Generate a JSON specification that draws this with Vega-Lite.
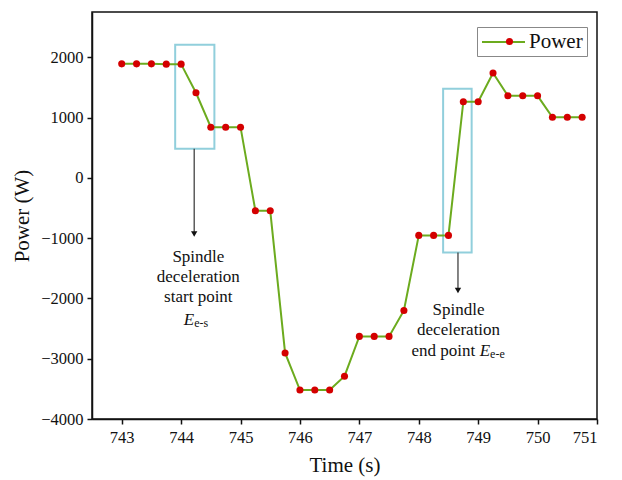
{
  "$schema": "https://vega.github.io/schema/vega-lite/v6.json",
  "width": 505,
  "height": 407,
  "autosize": "none",
  "padding": {"left": 92, "top": 12, "right": 25, "bottom": 61},
  "background": "white",
  "config": {
    "view": {"stroke": "#111", "strokeWidth": 1.5},
    "font": "Liberation Serif",
    "axis": {
      "labelFont": "Liberation Serif", "titleFont": "Liberation Serif",
      "labelFontSize": 16.5, "titleFontSize": 21, "titleFontWeight": "normal",
      "labelColor": "#111", "titleColor": "#111",
      "domainColor": "#111", "domainWidth": 1.5, "tickColor": "#111", "tickWidth": 1.5, "tickSize": 5,
      "grid": false
    }
  },
  "datasets": {
    "main": [
      {"t": 743.0, "p": 1890, "s": "Power"}, {"t": 743.25, "p": 1890, "s": "Power"},
      {"t": 743.5, "p": 1890, "s": "Power"}, {"t": 743.75, "p": 1885, "s": "Power"},
      {"t": 744.0, "p": 1885, "s": "Power"}, {"t": 744.25, "p": 1410, "s": "Power"},
      {"t": 744.5, "p": 840, "s": "Power"}, {"t": 744.75, "p": 840, "s": "Power"},
      {"t": 745.0, "p": 840, "s": "Power"}, {"t": 745.25, "p": -547, "s": "Power"},
      {"t": 745.5, "p": -547, "s": "Power"}, {"t": 745.75, "p": -2905, "s": "Power"},
      {"t": 746.0, "p": -3520, "s": "Power"}, {"t": 746.25, "p": -3520, "s": "Power"},
      {"t": 746.5, "p": -3520, "s": "Power"}, {"t": 746.75, "p": -3290, "s": "Power"},
      {"t": 747.0, "p": -2630, "s": "Power"}, {"t": 747.25, "p": -2630, "s": "Power"},
      {"t": 747.5, "p": -2630, "s": "Power"}, {"t": 747.75, "p": -2200, "s": "Power"},
      {"t": 748.0, "p": -955, "s": "Power"}, {"t": 748.25, "p": -955, "s": "Power"},
      {"t": 748.5, "p": -955, "s": "Power"}, {"t": 748.75, "p": 1262, "s": "Power"},
      {"t": 749.0, "p": 1262, "s": "Power"}, {"t": 749.25, "p": 1738, "s": "Power"},
      {"t": 749.5, "p": 1360, "s": "Power"}, {"t": 749.75, "p": 1360, "s": "Power"},
      {"t": 750.0, "p": 1360, "s": "Power"}, {"t": 750.25, "p": 1005, "s": "Power"},
      {"t": 750.5, "p": 1005, "s": "Power"}, {"t": 750.75, "p": 1005, "s": "Power"}
    ],
    "boxes": [
      {"xa": 743.9, "xb": 744.56, "ya": 480, "yb": 2205},
      {"xa": 748.41, "xb": 748.89, "ya": -1237, "yb": 1476}
    ],
    "arrows": [
      {"ax": 744.22, "ay": 480, "by": -930},
      {"ax": 748.66, "ay": -1237, "by": -1870}
    ],
    "labels": [
      {"lx": 744.29, "ly": -1310, "txt": "Spindle"},
      {"lx": 744.29, "ly": -1642, "txt": "deceleration"},
      {"lx": 744.29, "ly": -1983, "txt": "start point"},
      {"lx": 748.67, "ly": -2194, "txt": "Spindle"},
      {"lx": 748.67, "ly": -2526, "txt": "deceleration"}
    ],
    "ital": [{"lx": 744.22, "ly": -2360, "txt": "E"}, {"lx": 749.2, "ly": -2874, "txt": "E"}],
    "subs": [{"lx": 744.22, "ly": -2360, "txt": "e-s"}, {"lx": 749.2, "ly": -2874, "txt": "e-e"}],
    "endp": [{"lx": 748.95, "ly": -2874, "txt": "end point"}]
  },
  "layer": [
    {
      "data": {"name": "boxes"},
      "mark": {"type": "rect", "filled": false, "stroke": "#91cfdc", "strokeWidth": 2},
      "encoding": {
        "x": {"field": "xa", "type": "quantitative"},
        "x2": {"field": "xb"},
        "y": {"field": "ya", "type": "quantitative"},
        "y2": {"field": "yb"}
      }
    },
    {
      "data": {"name": "arrows"},
      "mark": {"type": "rule", "color": "#333", "strokeWidth": 1.2},
      "encoding": {
        "x": {"field": "ax", "type": "quantitative"},
        "y": {"field": "ay", "type": "quantitative"},
        "y2": {"field": "by"}
      }
    },
    {
      "data": {"name": "arrows"},
      "mark": {"type": "point", "shape": "triangle-down", "filled": true, "color": "#111", "size": 40, "opacity": 1},
      "encoding": {
        "x": {"field": "ax", "type": "quantitative"},
        "y": {"field": "by", "type": "quantitative"}
      }
    },
    {
      "data": {"name": "main"},
      "mark": {"type": "line", "strokeWidth": 2},
      "encoding": {
        "x": {"field": "t", "type": "quantitative", "title": "Time (s)",
              "scale": {"domain": [742.5, 751], "nice": false, "zero": false},
              "axis": {"values": [743, 744, 745, 746, 747, 748, 749, 750, 751], "format": "d", "labelPadding": 5, "titlePadding": 9}},
        "y": {"field": "p", "type": "quantitative", "title": "Power (W)",
              "scale": {"domain": [-4000, 2750], "nice": false},
              "axis": {"values": [-4000, -3000, -2000, -1000, 0, 1000, 2000], "format": "d", "labelPadding": 4, "titlePadding": 8}},
        "color": {"field": "s", "type": "nominal", "scale": {"range": ["#6cab1e"]},
          "legend": {
            "title": null, "orient": "none", "legendX": 385, "legendY": 15,
            "strokeColor": "#888", "padding": 4, "cornerRadius": 0,
            "labelFont": "Liberation Serif", "labelFontSize": 21, "labelColor": "#111", "labelOffset": 26,
            "symbolType": "M-1,0L3.3,0",
            "symbolSize": 400, "symbolStrokeWidth": 2, "symbolStrokeColor": "#6cab1e", "symbolFillColor": "transparent"
          }}
      }
    },
    {
      "data": {"name": "main"},
      "mark": {"type": "point", "filled": true, "color": "#d40000", "size": 50, "opacity": 1},
      "encoding": {
        "x": {"field": "t", "type": "quantitative"},
        "y": {"field": "p", "type": "quantitative"},
        "shape": {"field": "s", "type": "nominal", "scale": {"range": ["circle"]},
          "legend": {
            "title": null, "orient": "none", "legendX": 407, "legendY": 19, "padding": 0,
            "labelFontSize": 21, "labelExpr": "''", "labelFont": "Liberation Serif",
            "symbolSize": 50, "symbolFillColor": "#d40000", "symbolStrokeWidth": 0, "symbolStrokeColor": "transparent", "symbolOpacity": 1
          }}
      }
    },
    {
      "data": {"name": "labels"},
      "mark": {"type": "text", "font": "Liberation Serif", "fontSize": 17, "color": "#111", "align": "center", "baseline": "middle"},
      "encoding": {
        "x": {"field": "lx", "type": "quantitative"},
        "y": {"field": "ly", "type": "quantitative"},
        "text": {"field": "txt"}
      }
    },
    {
      "data": {"name": "ital"},
      "mark": {"type": "text", "font": "Liberation Serif", "fontStyle": "italic", "fontSize": 17, "color": "#111", "align": "right", "baseline": "middle"},
      "encoding": {
        "x": {"field": "lx", "type": "quantitative"},
        "y": {"field": "ly", "type": "quantitative"},
        "text": {"field": "txt"}
      }
    },
    {
      "data": {"name": "subs"},
      "mark": {"type": "text", "font": "Liberation Serif", "fontSize": 12, "color": "#111", "align": "left", "baseline": "middle", "dy": 3},
      "encoding": {
        "x": {"field": "lx", "type": "quantitative"},
        "y": {"field": "ly", "type": "quantitative"},
        "text": {"field": "txt"}
      }
    },
    {
      "data": {"name": "endp"},
      "mark": {"type": "text", "font": "Liberation Serif", "fontSize": 17, "color": "#111", "align": "right", "baseline": "middle"},
      "encoding": {
        "x": {"field": "lx", "type": "quantitative"},
        "y": {"field": "ly", "type": "quantitative"},
        "text": {"field": "txt"}
      }
    }
  ]
}
